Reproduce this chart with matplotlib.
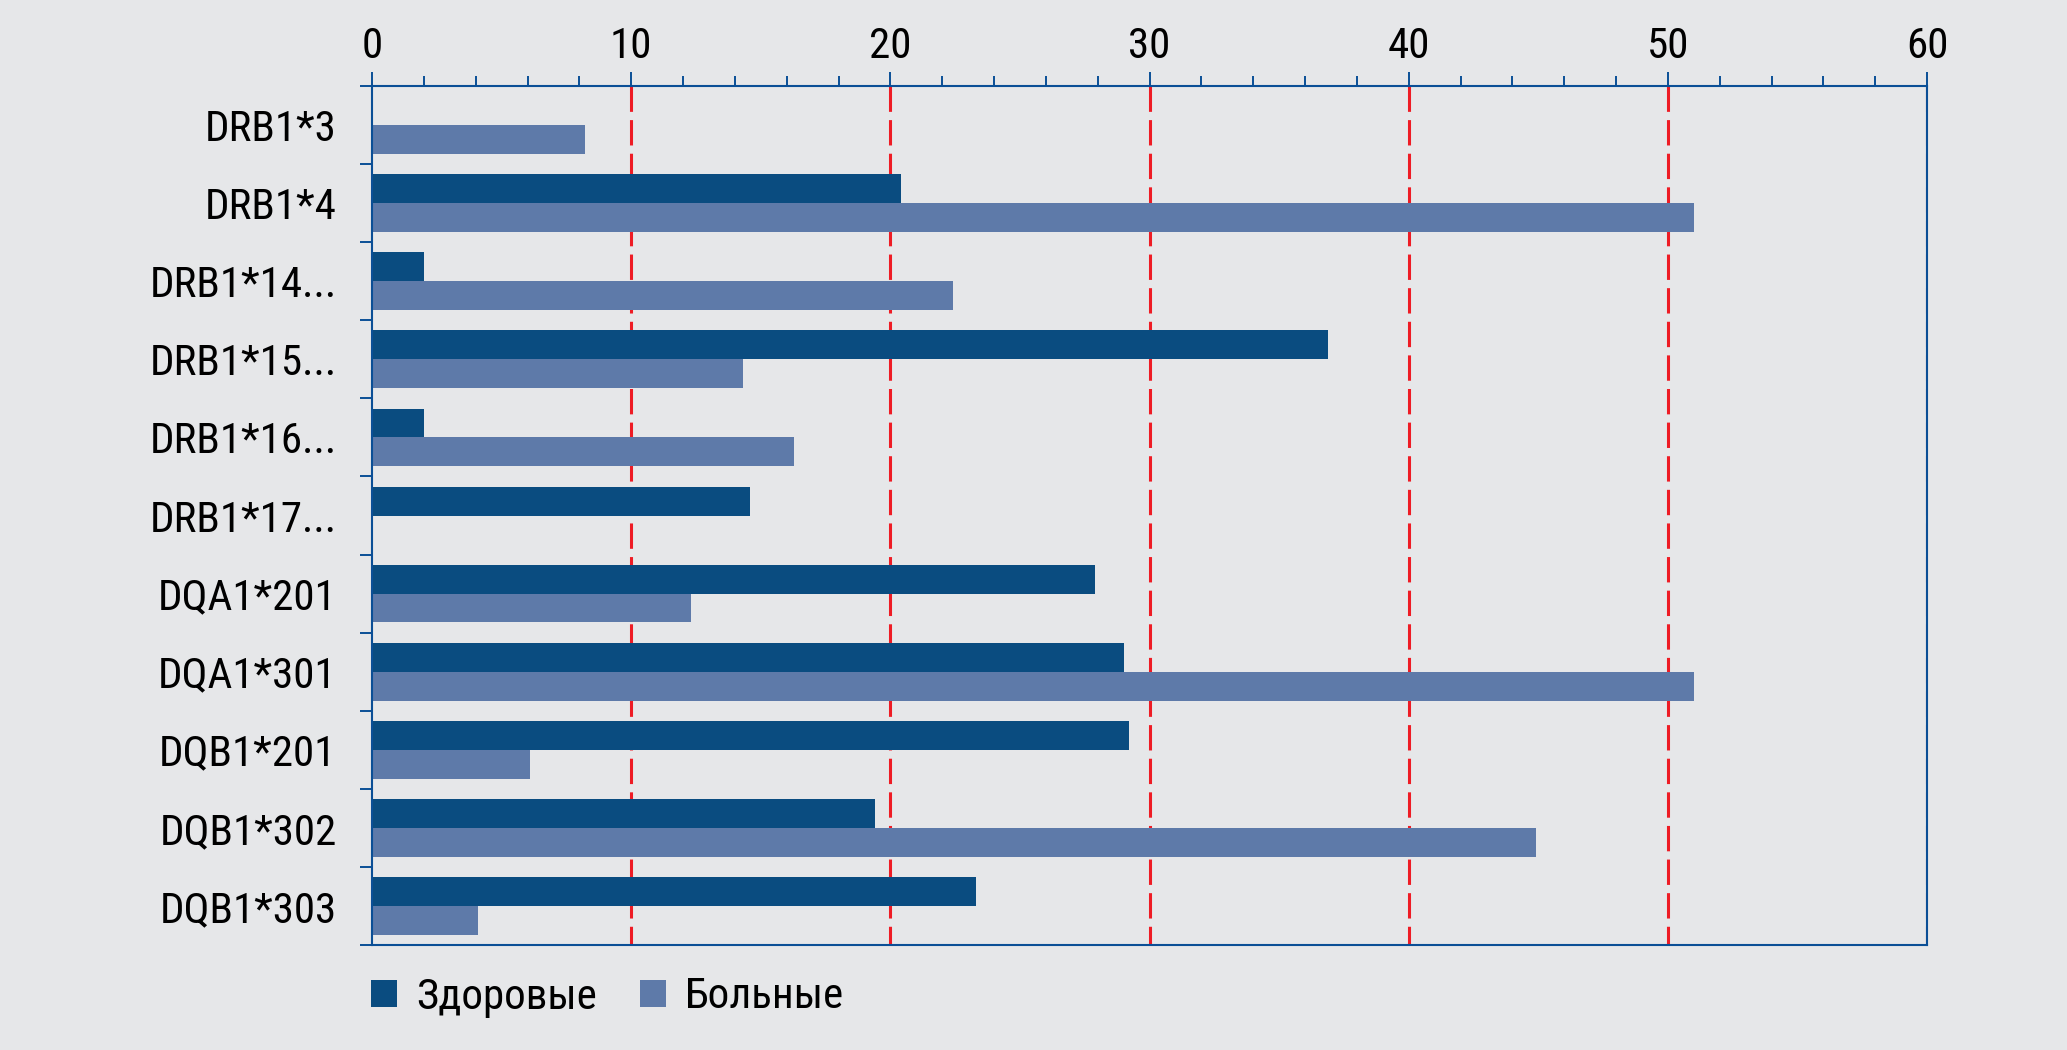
import numpy as np
import matplotlib
matplotlib.use('Agg')
import matplotlib.pyplot as plt
from matplotlib import font_manager
from matplotlib.ticker import MultipleLocator

# pick a condensed sans if one is installed, otherwise Liberation Sans (Helvetica metrics)
fam, stretch = 'Liberation Sans', 'normal'
ttf = font_manager.fontManager.ttflist
found = False
for want in ['Liberation Sans Narrow', 'Roboto Condensed', 'Arial Narrow', 'Open Sans Condensed']:
    if any(f.name == want for f in ttf):
        fam, found = want, True
        break
if not found:
    for f in ttf:
        if f.name in ('Roboto', 'DejaVu Sans', 'Noto Sans', 'Open Sans', 'Liberation Sans') \
                and f.stretch in ('condensed', 'semi-condensed') and f.style == 'normal' \
                and f.weight in (400, 'normal', 'regular'):
            fam, stretch = f.name, f.stretch
            break
plt.rcParams['font.family'] = [fam, 'DejaVu Sans']
plt.rcParams['font.stretch'] = stretch

# data
alleles = ['DRB1*3', 'DRB1*4', 'DRB1*14...', 'DRB1*15...', 'DRB1*16...', 'DRB1*17...',
           'DQA1*201', 'DQA1*301', 'DQB1*201', 'DQB1*302', 'DQB1*303']
healthy = [0.0, 20.4, 2.0, 36.9, 2.0, 14.6, 27.9, 29.0, 29.2, 19.4, 23.3]
sick = [8.2, 51.0, 22.4, 14.3, 16.3, 0.0, 12.3, 51.0, 6.1, 44.9, 4.1]
series_names = ['Здоровые', 'Больные']
ref_lines = [10, 20, 30, 40, 50, 60]

c_dark = '#0a4c80'
c_light = '#5e7aa9'
c_bg = '#e6e7e9'
c_axis = '#0b4f96'
c_red = '#ee1c25'
fs = 31

fig = plt.figure(figsize=(20.67, 10.5), dpi=100, facecolor=c_bg)
ax = fig.add_axes([372/2067, 1-945/1050, (1927-372)/2067, (945-86)/1050])
ax.set_facecolor(c_bg)

y = np.arange(len(alleles))
h = 0.37
ax.barh(y - h/2, healthy, height=h, color=c_dark, zorder=3, label=series_names[0])
ax.barh(y + h/2, sick, height=h, color=c_light, zorder=3, label=series_names[1])

for xv in ref_lines:
    ax.plot([xv, xv], [-0.5, len(alleles)-0.5], color=c_red, lw=2.2,
            dashes=(8.3, 2.7), zorder=2, dash_capstyle='butt')

ax.set_xlim(0, 60)
ax.set_ylim(len(alleles)-0.5, -0.5)

ax.xaxis.tick_top()
ax.xaxis.set_major_locator(MultipleLocator(10))
ax.xaxis.set_minor_locator(MultipleLocator(2))
ax.tick_params(axis='x', which='major', length=10, width=1.4, color=c_axis, pad=4, labelsize=fs)
ax.tick_params(axis='x', which='minor', length=7.2, width=1.4, color=c_axis)

ax.set_yticks(y)
ax.set_yticklabels(alleles)
ax.set_yticks(np.arange(len(alleles)+1) - 0.5, minor=True)
ax.tick_params(axis='y', which='major', length=0, pad=25.5, labelsize=fs)
ax.tick_params(axis='y', which='minor', length=8.6, width=1.4, color=c_axis)

for s in ax.spines.values():
    s.set_color(c_axis)
    s.set_linewidth(1.5)
    s.set_zorder(4)

fig.legend(loc='center left', bbox_to_anchor=(371/2067, 1-997/1050), ncol=2, frameon=False,
           fontsize=fs, handlelength=0.6, handleheight=0.6, handletextpad=0.45,
           columnspacing=1.0, borderpad=0, borderaxespad=0)

fig.savefig('out.png', dpi=100, facecolor=c_bg)
